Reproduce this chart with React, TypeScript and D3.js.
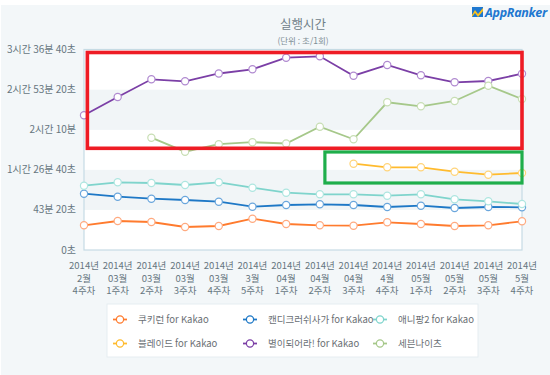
import React from "react";
import * as d3 from "d3";

const categories = [
  ["2014년", "2월", "4주차"],
  ["2014년", "03월", "1주차"],
  ["2014년", "03월", "2주차"],
  ["2014년", "03월", "3주차"],
  ["2014년", "03월", "4주차"],
  ["2014년", "3월", "5주차"],
  ["2014년", "04월", "1주차"],
  ["2014년", "04월", "2주차"],
  ["2014년", "04월", "3주차"],
  ["2014년", "4월", "4주차"],
  ["2014년", "05월", "1주차"],
  ["2014년", "05월", "2주차"],
  ["2014년", "05월", "3주차"],
  ["2014년", "5월", "4주차"],
];

const yTicks = [0, 2600, 5200, 7800, 10400, 13000];
const yTickLabels = ["0초", "43분 20초", "1시간 26분 40초", "2시간 10분", "2시간 53분 20초", "3시간 36분 40초"];

const cookieRun = [1602, 1880, 1816, 1491, 1556, 2030, 1686, 1602, 1576, 1796, 1686, 1556, 1602, 1861];
const candyCrush = [3651, 3456, 3326, 3242, 3132, 2808, 2918, 2963, 2918, 2788, 2872, 2723, 2788, 2769];
const anipang2 = [4169, 4390, 4344, 4215, 4390, 4040, 3715, 3612, 3612, 3521, 3612, 3287, 3158, 2983];
const blade = [null, null, null, null, null, null, null, null, 5596, 5362, 5362, 5077, 4883, 4993];
const starBe = [8734, 9920, 11068, 10939, 11444, 11717, 12469, 12560, 11302, 11995, 11327, 10874, 10958, 11431];
const sevenKnights = [null, null, 7282, 6374, 6860, 6990, 6905, 7995, 7178, 9577, 9318, 9661, 10653, 9791];

const seriesNames = ["쿠키런 for Kakao", "캔디크러쉬사가 for Kakao", "애니팡2 for Kakao", "블레이드 for Kakao", "별이되어라! for Kakao", "세븐나이츠"];
const seriesColors = ["#ff7b2e", "#1e78c6", "#7fd4cc", "#ffbb2e", "#7b3fa6", "#a6c88a"];
const seriesData = [cookieRun, candyCrush, anipang2, blade, starBe, sevenKnights];
const markerColors = ["#ffaa80", "#6aa6dc", "#aee6e0", "#ffd47a", "#b08ad0", "#c8deb4"];

// annotation boxes, in data units (index range, value range)
const redBox = { x0: 0.1, x1: 13, y0: 6594, y1: 12806 };
const greenBox = { x0: 7.15, x1: 13, y0: 4344, y1: 6354 };

const W = 550, H = 375;
const left = 84, right = 522, top = 49.5, bottom = 250;

export default function App() {
  const x = d3.scaleLinear().domain([0, categories.length - 1]).range([left, right]);
  const y = d3.scaleLinear().domain([0, 13000]).range([bottom, top]);
  const line = d3.line<number | null>()
    .defined((d) => d !== null)
    .x((_, i) => x(i))
    .y((d) => y(d as number));

  const labelColor = "#66767f";
  const font = "'Noto Sans CJK KR', 'Noto Sans', sans-serif";

  const bands = yTicks.slice(0, -1).map((t, i) => ({ y0: t, y1: yTicks[i + 1], fill: i % 2 === 0 ? "#ffffff" : "#f1f5f7" }));

  const legendRows = [0, 1];
  const legendCols = [120, 250, 380];

  return (
    <div style={{ position: "fixed", left: 0, top: 0 }}>
      <svg width={W} height={H} style={{ display: "block", fontFamily: font }}>
        <rect x={0} y={0} width={W} height={H} fill="#ffffff" />
        <rect x={1} y={5} width={W - 1} height={H - 5} fill="#f3f7f9" />
        {/* title */}
        <text x={303} y={29} textAnchor="middle" fontSize={12.5} fill="#6f8088">실행시간</text>
        <text x={303} y={43.5} textAnchor="middle" fontSize={8.5} fill="#7f8e96">(단위 : 초/1회)</text>
        {/* logo */}
        <g>
          <rect x={472} y={7} width={11} height={10} fill="#1f78d0" />
          <path d="M472,15 L475,10 L478,14 L483,8 L483,11 L478,17 L475,13 L472,17 Z" fill="#ffc21a" />
          <text x={485} y={16.5} fontSize={12.5} fontWeight="bold" fontStyle="italic" fill="#1f78d0" fontFamily="'Open Sans', 'DejaVu Sans', sans-serif" letterSpacing={-0.3}>AppRanker</text>
        </g>
        {/* bands */}
        {bands.map((b, i) => (
          <rect key={i} x={left} y={y(b.y1)} width={right - left} height={y(b.y0) - y(b.y1)} fill={b.fill} />
        ))}
        <rect x={left} y={top} width={right - left} height={bottom - top} fill="none" stroke="#c6dbe4" strokeWidth={1.2} />
        {/* y labels */}
        {yTicks.map((t, i) => (
          <text key={t} x={76} y={y(t) + 3.5} textAnchor="end" fontSize={10} fill={labelColor}>{yTickLabels[i]}</text>
        ))}
        {/* x labels */}
        {categories.map((c, i) => (
          <g key={i}>
            {c.map((s, j) => (
              <text key={j} x={x(i)} y={269 + j * 12.5} textAnchor="middle" fontSize={9.5} fill={labelColor}>{s}</text>
            ))}
          </g>
        ))}
        {/* series */}
        {seriesData.map((data, si) => (
          <g key={si}>
            <path d={line(data as (number | null)[]) || ""} fill="none" stroke={seriesColors[si]} strokeWidth={1.8} />
            {data.map((d, i) =>
              d === null ? null : (
                <circle key={i} cx={x(i)} cy={y(d)} r={3.6} fill="#ffffff" stroke={markerColors[si]} strokeWidth={1.2} />
              )
            )}
          </g>
        ))}
        {/* annotations */}
        <rect x={x(redBox.x0)} y={y(redBox.y1)} width={x(redBox.x1) - x(redBox.x0)} height={y(redBox.y0) - y(redBox.y1)} fill="none" stroke="#ee1c25" strokeWidth={3.6} />
        <rect x={x(greenBox.x0)} y={y(greenBox.y1)} width={x(greenBox.x1) - x(greenBox.x0)} height={y(greenBox.y0) - y(greenBox.y1)} fill="none" stroke="#1fae4b" strokeWidth={3.2} />
        {/* legend */}
        <rect x={107} y={304} width={371} height={53} fill="#ffffff" stroke="#e6edf1" strokeWidth={1} />
        {seriesNames.map((name, i) => {
          const row = legendRows[Math.floor(i / 3)];
          const cx = legendCols[i % 3];
          const cy = 319.5 + row * 24;
          return (
            <g key={name}>
              <line x1={cx - 7} x2={cx + 7} y1={cy} y2={cy} stroke={seriesColors[i]} strokeWidth={1.8} />
              <circle cx={cx} cy={cy} r={3.6} fill="#ffffff" stroke={seriesColors[i]} strokeWidth={1.2} />
              <text x={cx + 18} y={cy + 3.5} fontSize={9.5} fill="#6a6f74">{name}</text>
            </g>
          );
        })}
      </svg>
    </div>
  );
}
